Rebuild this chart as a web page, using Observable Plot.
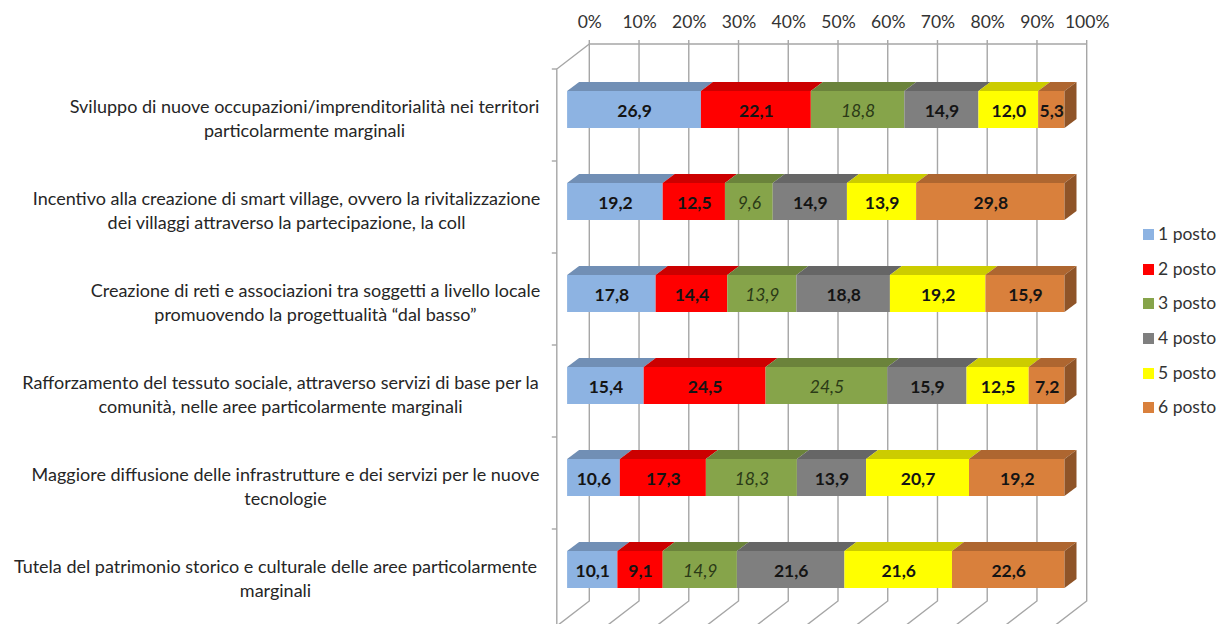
<!DOCTYPE html>
<html><head><meta charset="utf-8">
<script src="https://cdn.jsdelivr.net/npm/d3@7"></script>
<script src="https://cdn.jsdelivr.net/npm/@observablehq/plot@0.6"></script>
<style>
html,body{margin:0;padding:0;background:#fff;overflow:hidden}
#wrap{position:relative;width:1219px;height:624px;font-family:Lato,sans-serif}
#legend{position:absolute;left:1143px;top:224px;font-size:17.5px;color:#333}
#legend div{height:34.7px;line-height:19px;white-space:nowrap}
#legend i{display:inline-block;width:11px;height:11px;margin-right:4px}
</style></head><body><div id="wrap"><div id="chart"></div><div id="legend"></div></div>
<script>
const categories = [
  "Sviluppo di nuove occupazioni/imprenditorialità nei territori\nparticolarmente marginali",
  "Incentivo alla creazione di smart village, ovvero la rivitalizzazione\ndei villaggi attraverso la partecipazione, la coll",
  "Creazione di reti e associazioni tra soggetti a livello locale\npromuovendo la progettualità “dal basso”",
  "Rafforzamento del tessuto sociale, attraverso servizi di base per la\ncomunità, nelle aree particolarmente marginali",
  "Maggiore diffusione delle infrastrutture e dei servizi per le nuove\ntecnologie",
  "Tutela del patrimonio storico e culturale delle aree particolarmente\nmarginali"
];
const series = ["1 posto","2 posto","3 posto","4 posto","5 posto","6 posto"];
const posto1 = [26.9,19.2,17.8,15.4,10.6,10.1];
const posto2 = [22.1,12.5,14.4,24.5,17.3,9.1];
const posto3 = [18.8,9.6,13.9,24.5,18.3,14.9];
const posto4 = [14.9,14.9,18.8,15.9,13.9,21.6];
const posto5 = [12.0,13.9,19.2,12.5,20.7,21.6];
const posto6 = [5.3,29.8,15.9,7.2,19.2,22.6];
const colors = ["#8db3e2","#ff0000","#86a44a","#7f7f7f","#ffff00","#d9803c"];
const tickValues = [0,.1,.2,.3,.4,.5,.6,.7,.8,.9,1];

const rows = [posto1,posto2,posto3,posto4,posto5,posto6].flatMap((vals,s)=>
  vals.map((v,i)=>({cat:categories[i],serie:series[s],value:v})));

// layout of the 3D frame
const FRONT = {dx:-32.5, dy:25};   // front edge of floor/side wall, relative to back wall
const BAR = {dx:-22.2, dy:17};     // front face of the bars, relative to back wall
const DEPTH = {dx:12, dy:-9};      // depth of the bars
const labelCenters = [304,286,315,280,285,275];
const GRID = "#a6a6a6";
const shade = (c,k)=>{const r=d3.rgb(c);return d3.rgb(r.r*k,r.g*k,r.b*k).formatHex();};

function walls(index,{x,y},values,{marginTop,height,marginBottom}){
  const g=d3.create("svg:g").attr("fill","none").attr("stroke",GRID).attr("stroke-width",1.4);
  const top=marginTop,bot=height-marginBottom;
  const x0=x(0),x1=x(1);
  g.append("path").attr("d",`M${x0},${top}L${x1},${top}`);
  for(const t of tickValues){
    const X=x(t);
    g.append("path").attr("d",`M${X},${top-4}L${X},${bot}L${X+FRONT.dx},${bot+FRONT.dy}`);
  }
  g.append("path").attr("d",`M${x0},${top}L${x0+FRONT.dx},${top+FRONT.dy}L${x0+FRONT.dx},${bot+FRONT.dy}`);
  const step=y.step();
  for(let i=0;i<categories.length;i++){
    const Y=top+FRONT.dy+i*step;
    g.append("path").attr("d",`M${x0+FRONT.dx-5},${Y}L${x0+FRONT.dx},${Y}`);
  }
  return g.node();
}

function faces(index,scales,values,dims,ctx,next){
  const g=next(index,scales,values,dims,ctx);
  const bw=scales.y.bandwidth();
  const {x1,x2,y,fill}=values;
  const sel=d3.select(g);
  for(const i of index){
    const a=x1[i],b=x2[i],t=y[i];
    sel.append("polygon").attr("fill",shade(fill[i],.8))
      .attr("points",[[a,t],[b,t],[b+DEPTH.dx,t+DEPTH.dy],[a+DEPTH.dx,t+DEPTH.dy]].join(" "));
    if(Math.abs(scales.x(1)-b)<.5){
      sel.append("polygon").attr("fill",shade(fill[i],.66))
        .attr("points",[[b,t],[b+DEPTH.dx,t+DEPTH.dy],[b+DEPTH.dx,t+bw+DEPTH.dy],[b,t+bw]].join(" "));
    }
  }
  return g;
}

const stack = o=>Plot.stackX({x:"value",y:"cat",z:"serie",offset:"normalize",...o});
const valueText = d=>d.value.toFixed(1).replace(".",",");

const plot = Plot.plot({
  width:1219,height:624,
  marginLeft:589.3,marginRight:132.3,marginTop:44,marginBottom:23,
  style:{background:"transparent",overflow:"visible"},
  x:{domain:[0,1],axis:null},
  y:{domain:categories,axis:null,paddingInner:.6,paddingOuter:.3},
  color:{domain:series,range:colors},
  marks:[
    walls,
    Plot.barX(rows,stack({fill:"serie",dx:BAR.dx,dy:BAR.dy,render:faces})),
    Plot.text(rows,Plot.filter(d=>d.serie!=="3 posto",stack({text:valueText,dx:BAR.dx,dy:BAR.dy+1,fontFamily:"Lato",fontSize:17.5,fontWeight:"bold",fill:"#141414"}))),
    Plot.text(rows,Plot.filter(d=>d.serie==="3 posto",stack({text:valueText,dx:BAR.dx,dy:BAR.dy+1,fontFamily:"Lato",fontSize:17.5,fontStyle:"italic",fill:"#2b3a17"}))),
    Plot.text(tickValues,{x:d=>d,text:d3.format(".0%"),frameAnchor:"top",dy:-29,fontFamily:"Lato",fontSize:17.5,fill:"#333"}),
    ...categories.map((c,i)=>Plot.text([c],{
      text:d=>d,y:d=>d,x:()=>0,textAnchor:"middle",lineAnchor:"middle",
      dx:labelCenters[i]-589.3,dy:BAR.dy+7.6,lineHeight:1.31,fontFamily:"Lato",fontSize:18,fill:"#262626"
    }))
  ]
});
document.getElementById("chart").appendChild(plot);
const lg=d3.select("#legend");
series.forEach((s,i)=>{const d=lg.append("div");d.append("i").style("background",colors[i]);d.append("span").text(s);});
</script></body></html>
